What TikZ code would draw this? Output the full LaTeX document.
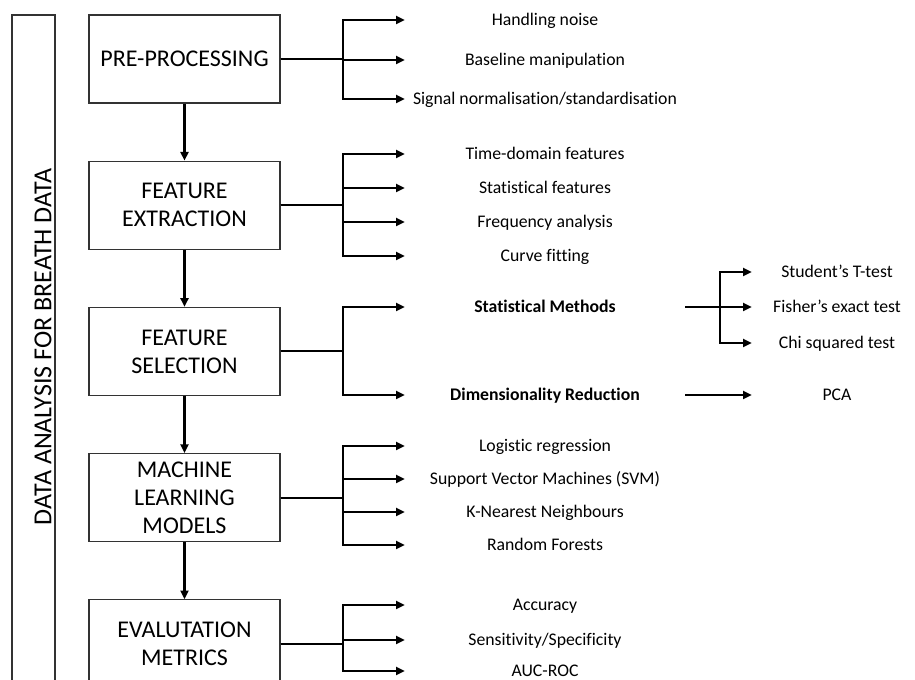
\documentclass[tikz,border=0pt]{standalone}
\usepackage{fontspec}
\setmainfont{Carlito}[Ligatures={TeX,NoCommon}]
\usetikzlibrary{arrows.meta,positioning}

\begin{document}
\begin{tikzpicture}[x=0.75pt,y=-0.75pt,node distance=42.75pt,box/.style={rectangle,draw=black!80,line width=0.9pt,minimum width=143.25pt,minimum height=66pt,align=center,inner sep=0pt,font=\fontsize{18}{21}\selectfont},item/.style={rectangle,inner sep=0pt,minimum width=210pt,text height=9pt,text depth=0pt,font=\fontsize{13.3}{15}\selectfont},subitem/.style={item,minimum width=127.5pt},arrow/.style={-{Triangle[length=6.5pt,width=6pt]},line width=1.6pt}]
\clip (0,0) rectangle (915,680);
\node[box,minimum width=32.25pt,minimum height=581.25pt](side) at (33.5,402.5){};
\node[rotate=90,inner sep=0pt,font=\fontsize{19.5}{22}\selectfont](title) at (43,347){DATA ANALYSIS FOR BREATH DATA};
\node[box](pre) at (184.5,59){PRE-PROCESSING};
\node[box,below=of pre](fe){FEATURE\\EXTRACTION};
\node[box,below=of fe](fs){FEATURE\\SELECTION};
\node[box,below=of fs](ml){MACHINE\\LEARNING\\MODELS};
\node[box,below=of ml](ev){EVALUTATION\\METRICS};
% first level
\node[item](hn) at (545,20){Handling noise};
\node[item](bm) at (545,60){Baseline manipulation};
\node[item](sn) at (545,99){Signal normalisation/standardisation};
\node[item](td) at (545,154){Time-domain features};
\node[item](sf) at (545,188){Statistical features};
\node[item](fa) at (545,222){Frequency analysis};
\node[item](cf) at (545,256){Curve fitting};
\node[item,font=\fontsize{13.3}{15}\selectfont\bfseries](sm) at (545,307){Statistical Methods};
\node[item,font=\fontsize{13.3}{15}\selectfont\bfseries](dr) at (545,395){Dimensionality Reduction};
\node[item](lr) at (545,446){Logistic regression};
\node[item](svm) at (545,479){Support Vector Machines (SVM)};
\node[item](knn) at (545,512){K-Nearest Neighbours};
\node[item](rf) at (545,545){Random Forests};
\node[item](acc) at (545,605){Accuracy};
\node[item](ss) at (545,640){Sensitivity/Specificity};
\node[item](auc) at (545,671){AUC-ROC};
% second level
\node[subitem](st) at (837,272){Student's T-test};
\node[subitem](fi) at (837,307){Fisher's exact test};
\node[subitem](ch) at (837,343){Chi squared test};
\node[subitem](pca) at (837,395){PCA};
\foreach \x/\y in {pre/fe,fe/fs,fs/ml,ml/ev}{\draw[arrow](\x)--(\y);}
\foreach \x/\y in {pre/hn,pre/bm,pre/sn,fe/td,fe/sf,fe/fa,fe/cf,fs/sm,fs/dr,ml/lr,ml/svm,ml/knn,ml/rf,ev/acc,ev/ss,ev/auc}{\draw[arrow](\x.east)--++(62,0)|-(\y.west);}
\foreach \y in {st,fi,ch}{\draw[arrow](sm.east)--++(35,0)|-(\y.west);}
\draw[arrow](dr)--(pca);
\end{tikzpicture}
\end{document}
